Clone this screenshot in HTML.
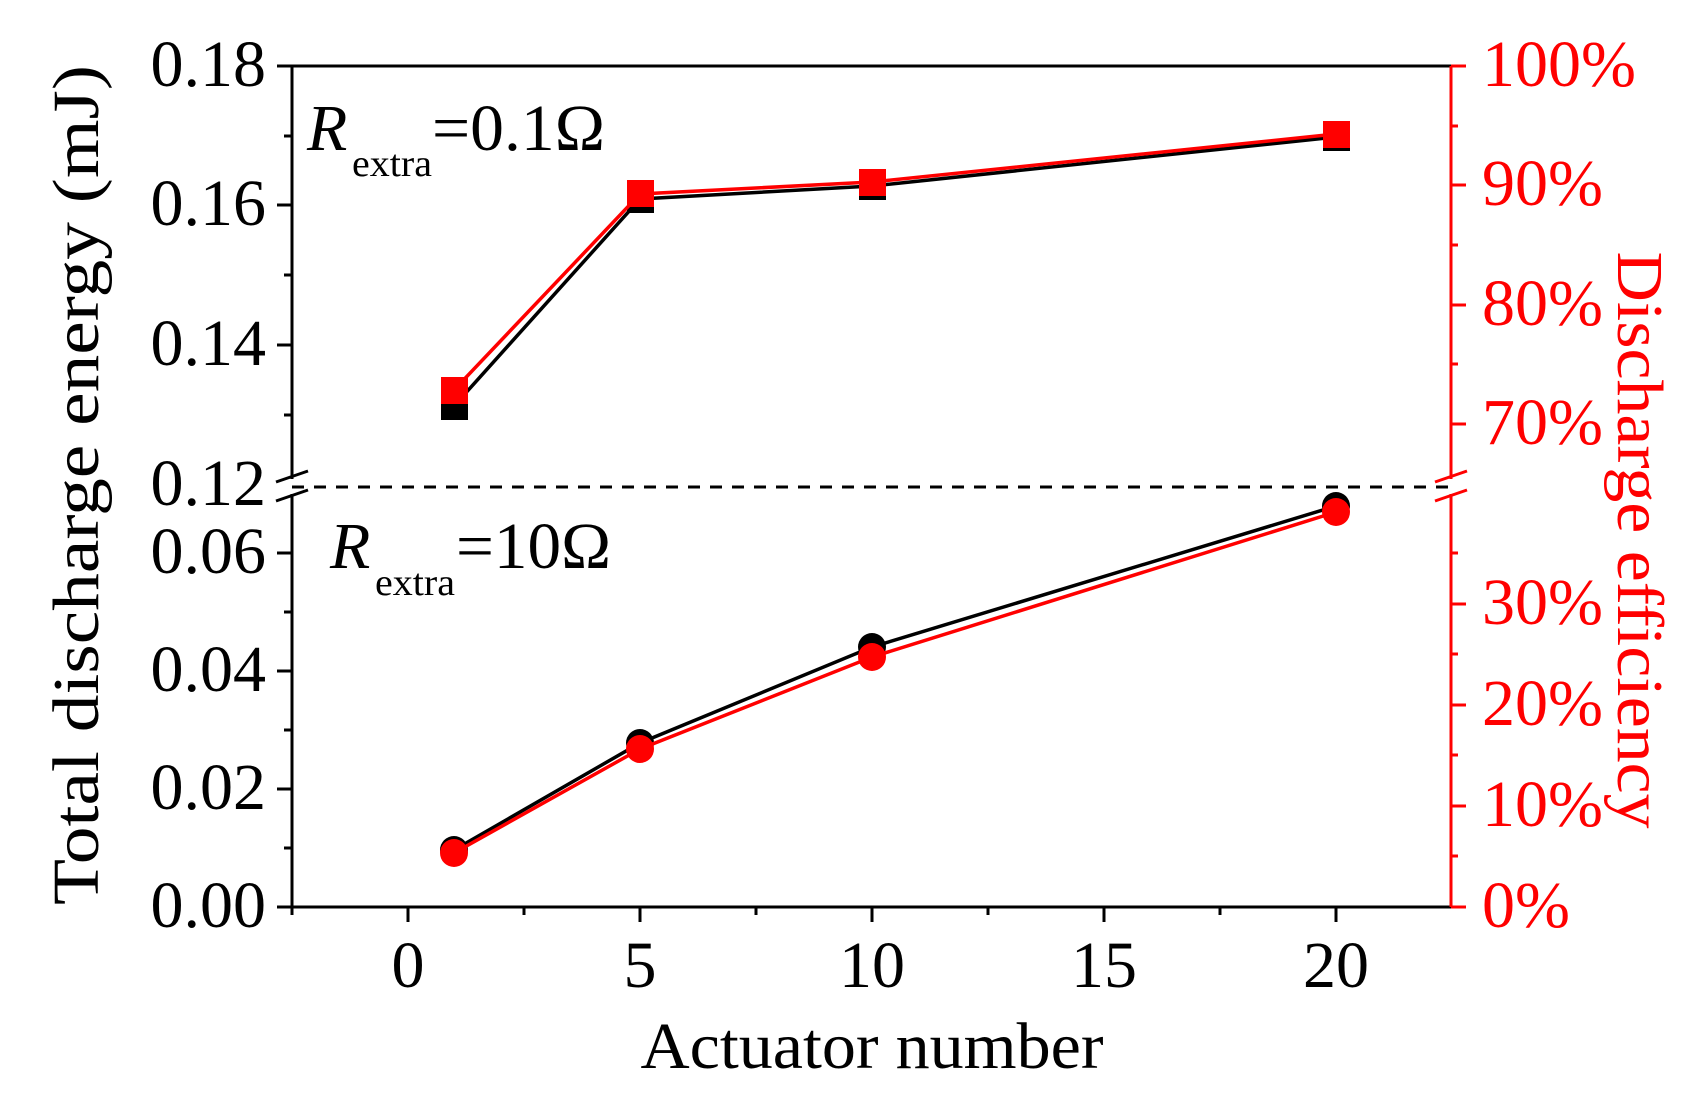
<!DOCTYPE html>
<html><head><meta charset="utf-8"><style>
html,body{margin:0;padding:0;background:#fff;}
svg{display:block;font-family:"Liberation Serif",serif;}
</style></head><body>
<svg width="1706" height="1093" viewBox="0 0 1706 1093">
<!-- frame -->
<line x1="292" y1="66" x2="1451" y2="66" stroke="#000" stroke-width="3"/>
<line x1="292" y1="907" x2="1451" y2="907" stroke="#000" stroke-width="3"/>
<line x1="292" y1="66" x2="292" y2="479" stroke="#000" stroke-width="3"/>
<line x1="292" y1="494" x2="292" y2="907" stroke="#000" stroke-width="3"/>
<line x1="1451" y1="66" x2="1451" y2="479" stroke="#f00" stroke-width="3"/>
<line x1="1451" y1="494" x2="1451" y2="907" stroke="#f00" stroke-width="3"/>
<!-- break marks -->
<g stroke="#000" stroke-width="3">
<line x1="276" y1="482" x2="308" y2="471"/><line x1="276" y1="501" x2="308" y2="490"/>
</g>
<g stroke="#f00" stroke-width="3">
<line x1="1435" y1="482" x2="1467" y2="471"/><line x1="1435" y1="501" x2="1467" y2="490"/>
</g>
<line x1="292" y1="487" x2="1451" y2="487" stroke="#000" stroke-width="3" stroke-dasharray="12,10"/>
<!-- left ticks -->
<g stroke="#000" stroke-width="3">
<line x1="277" y1="66" x2="292" y2="66"/><line x1="277" y1="205" x2="292" y2="205"/>
<line x1="277" y1="345" x2="292" y2="345"/>
<line x1="284" y1="136" x2="292" y2="136"/><line x1="284" y1="275" x2="292" y2="275"/><line x1="284" y1="415" x2="292" y2="415"/>
<line x1="277" y1="907" x2="292" y2="907"/><line x1="277" y1="789" x2="292" y2="789"/>
<line x1="277" y1="671" x2="292" y2="671"/><line x1="277" y1="553" x2="292" y2="553"/>
<line x1="284" y1="848" x2="292" y2="848"/><line x1="284" y1="730" x2="292" y2="730"/><line x1="284" y1="612" x2="292" y2="612"/>
<!-- x ticks -->
<line x1="408" y1="907" x2="408" y2="922"/><line x1="640" y1="907" x2="640" y2="922"/>
<line x1="872" y1="907" x2="872" y2="922"/><line x1="1104" y1="907" x2="1104" y2="922"/>
<line x1="1336" y1="907" x2="1336" y2="922"/>
<line x1="292" y1="907" x2="292" y2="915"/><line x1="524" y1="907" x2="524" y2="915"/><line x1="756" y1="907" x2="756" y2="915"/>
<line x1="988" y1="907" x2="988" y2="915"/><line x1="1220" y1="907" x2="1220" y2="915"/>
</g>
<!-- right ticks -->
<g stroke="#f00" stroke-width="3">
<line x1="1451" y1="66" x2="1466" y2="66"/><line x1="1451" y1="185" x2="1466" y2="185"/>
<line x1="1451" y1="305" x2="1466" y2="305"/><line x1="1451" y1="424" x2="1466" y2="424"/>
<line x1="1451" y1="126" x2="1458" y2="126"/><line x1="1451" y1="245" x2="1458" y2="245"/><line x1="1451" y1="364" x2="1458" y2="364"/>
<line x1="1451" y1="907" x2="1466" y2="907"/><line x1="1451" y1="806" x2="1466" y2="806"/>
<line x1="1451" y1="705" x2="1466" y2="705"/><line x1="1451" y1="604" x2="1466" y2="604"/>
<line x1="1451" y1="856" x2="1458" y2="856"/><line x1="1451" y1="755" x2="1458" y2="755"/><line x1="1451" y1="654" x2="1458" y2="654"/><line x1="1451" y1="553" x2="1458" y2="553"/>
</g>
<!-- left labels -->
<g font-size="66" text-anchor="end" fill="#000">
<text x="266" y="86">0.18</text><text x="266" y="225">0.16</text><text x="266" y="365">0.14</text><text x="266" y="505">0.12</text>
<text x="266" y="573">0.06</text><text x="266" y="691">0.04</text><text x="266" y="809">0.02</text><text x="266" y="927">0.00</text>
</g>
<!-- right labels -->
<g font-size="66" fill="#f00">
<text x="1482" y="86">100%</text><text x="1482" y="205">90%</text><text x="1482" y="325">80%</text><text x="1482" y="444">70%</text>
<text x="1482" y="624">30%</text><text x="1482" y="725">20%</text><text x="1482" y="826">10%</text><text x="1482" y="927">0%</text>
</g>
<!-- x labels -->
<g font-size="66" text-anchor="middle" fill="#000">
<text x="408" y="987">0</text><text x="640" y="987">5</text><text x="872" y="987">10</text><text x="1104" y="987">15</text><text x="1336" y="987">20</text>
</g>
<text x="872" y="1068" font-size="66" text-anchor="middle" textLength="463" lengthAdjust="spacingAndGlyphs">Actuator number</text>
<text transform="translate(98,485) rotate(-90)" font-size="66" text-anchor="middle" textLength="840" lengthAdjust="spacingAndGlyphs">Total discharge energy (mJ)</text>
<text transform="translate(1618,540) rotate(90)" font-size="66" text-anchor="middle" fill="#f00" textLength="577" lengthAdjust="spacingAndGlyphs">Discharge efficiency</text>
<!-- annotations -->
<text x="307" y="150" font-size="66" font-style="italic">R</text>
<text x="352" y="176" font-size="38" textLength="80" lengthAdjust="spacingAndGlyphs">extra</text>
<text x="432" y="150" font-size="66" textLength="173" lengthAdjust="spacingAndGlyphs">=0.1Ω</text>
<text x="330" y="568" font-size="66" font-style="italic">R</text>
<text x="375" y="595" font-size="38" textLength="80" lengthAdjust="spacingAndGlyphs">extra</text>
<text x="456" y="568" font-size="66" textLength="155" lengthAdjust="spacingAndGlyphs">=10Ω</text>
<!-- upper series -->
<polyline points="454,406 640,199 872,186 1336,137" fill="none" stroke="#000" stroke-width="3.5"/>
<g fill="#000">
<rect x="441" y="393" width="27" height="27"/><rect x="627" y="186" width="27" height="27"/>
<rect x="859" y="173" width="27" height="27"/><rect x="1323" y="124" width="27" height="27"/>
</g>
<polyline points="454,390 640,194 872,182 1336,134" fill="none" stroke="#f00" stroke-width="3.5"/>
<g fill="#f00">
<rect x="441" y="377" width="27" height="27"/><rect x="627" y="180" width="27" height="27"/>
<rect x="859" y="169" width="27" height="27"/><rect x="1323" y="121" width="27" height="27"/>
</g>
<!-- lower series -->
<polyline points="454,850 640,743 872,647 1336,506" fill="none" stroke="#000" stroke-width="3.5"/>
<g fill="#000">
<circle cx="454" cy="850" r="14"/><circle cx="640" cy="743" r="14"/><circle cx="872" cy="647" r="14"/><circle cx="1336" cy="506" r="14"/>
</g>
<polyline points="454,853 640,749 872,657 1336,512" fill="none" stroke="#f00" stroke-width="3.5"/>
<g fill="#f00">
<circle cx="454" cy="853" r="14"/><circle cx="640" cy="749" r="14"/><circle cx="872" cy="657" r="14"/><circle cx="1336" cy="512" r="14"/>
</g>
</svg>
</body></html>
